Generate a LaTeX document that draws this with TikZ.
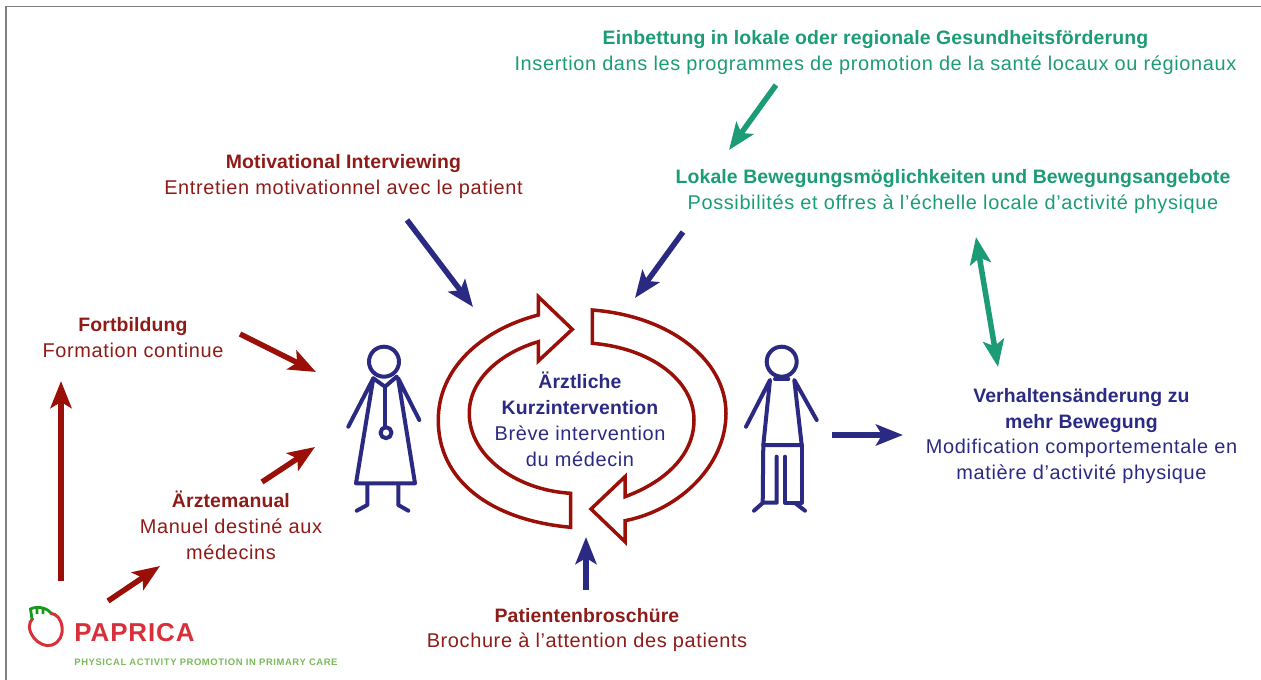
\documentclass[tikz,border=0pt]{standalone}
\usepackage{fontspec}
\setmainfont{Liberation Sans}[LetterSpace=3.2,BoldFeatures={Scale=0.975,LetterSpace=0.7}]
\newfontfamily\logofont{Liberation Sans}[LetterSpace=3.5]
\newfontfamily\claimfont{Liberation Sans}[LetterSpace=6]
\usetikzlibrary{arrows.meta}
\definecolor{papred}{HTML}{9A1008}
\definecolor{textred}{HTML}{8E1B18}
\definecolor{papnavy}{HTML}{2A2A82}
\definecolor{papgreen}{HTML}{1C9C76}
\definecolor{logored}{HTML}{D8303A}
\definecolor{logogreen}{HTML}{7CB95A}
\tikzset{
  thicktip/.style={-{Stealth[length=27bp,width=21bp,inset=6bp]},line width=5.5bp},
  redarrow/.style={thicktip,papred},
  navyarrow/.style={thicktip,papnavy},
  greenarrow/.style={thicktip,papgreen},
  label/.style={align=center,inner sep=0pt,font=\fontsize{20}{26}\selectfont},
  redlabel/.style={label,text=textred},
  navylabel/.style={label,text=papnavy},
  greenlabel/.style={label,text=papgreen},
  cycle/.style={draw=papred,line width=3.5bp,line join=miter},
  figure/.style={draw=papnavy,line width=4bp,line cap=round,line join=round},
}
\begin{document}
\begin{tikzpicture}[x=1bp,y=-1bp]
  \useasboundingbox (0,0) rectangle (1261,680);
  \draw [gray,line width=1.5bp] (6,680) -- (6,6.5) -- (1261,6.5);
  % Node: labels
  \node [greenlabel] (einbettung) at (875.5,52.5) {\textbf{Einbettung in lokale oder regionale Gesundheitsförderung}\\Insertion dans les programmes de promotion de la santé locaux ou régionaux};
  \node [greenlabel] (lokale) at (953,191.5) {\textbf{Lokale Bewegungsmöglichkeiten und Bewegungsangebote}\\Possibilités et offres à l’échelle locale d’activité physique};
  \node [redlabel] (motivational) at (343.5,176.5) {\textbf{Motivational Interviewing}\\Entretien motivationnel avec le patient};
  \node [redlabel] (fortbildung) at (133,337.5) {\textbf{Fortbildung}\\Formation continue};
  \node [redlabel] (manual) at (231,525) {\textbf{Ärztemanual}\\Manuel destiné aux\\médecins};
  \node [redlabel] (broschuere) at (587,630) {\textbf{Patientenbroschüre}\\Brochure à l’attention des patients};
  \node [navylabel] (verhalten) at (1081.5,436) {\textbf{Verhaltensänderung zu}\\\textbf{mehr Bewegung}\\Modification comportementale en\\matière d’activité physique};
  \node [navylabel] (kurz) at (580,419.5) {\textbf{Ärztliche}\\\textbf{Kurzintervention}\\Brève intervention\\du médecin};
  % Node: logo
  \node [inner sep=0pt,text=logored,font=\fontsize{26}{26}\logofont\bfseries\selectfont] (paprica) at (134.5,632.5) {PAPRICA};
  \node [inner sep=0pt,text=logogreen,font=\fontsize{9.5}{10}\claimfont\bfseries\selectfont] (claim) at (206,662) {PHYSICAL ACTIVITY PROMOTION IN PRIMARY CARE};
  \draw [logored,line width=3bp] (33,618) .. controls (28,623) and (28,630) .. (34,638) .. controls (39,644) and (46,647) .. (52,645) .. controls (60,642) and (63,635) .. (62,627) .. controls (61,619) and (57,614) .. (50,613);
  \draw [green!55!black!90!white,line width=2.8bp] (32,619) -- (30.5,609) .. controls (36,606) and (46,607) .. (51,613) (37,608) -- (37,614) (43,608) -- (43,614);
  % Node: arrow ends
  \coordinate (einbettungout) at (776,85);
  \coordinate (lokalein) at (729,150);
  \coordinate (lokaleout) at (683,232);
  \coordinate (motivout) at (407,220);
  \coordinate (topleft) at (473,307);
  \coordinate (topright) at (635,298);
  \coordinate (fortbout) at (240,334);
  \coordinate (doctorup) at (316,372);
  \coordinate (manualout) at (262,482);
  \coordinate (doctordown) at (315,447);
  \coordinate (logoup) at (61,581);
  \coordinate (fortbin) at (61,381);
  \coordinate (logoright) at (108,601);
  \coordinate (manualin) at (160,566);
  \coordinate (broschout) at (586,590);
  \coordinate (bottomin) at (586,537);
  \coordinate (patientout) at (832,435);
  \coordinate (verhaltenin) at (903,435);
  \coordinate (lokaledown) at (976,237);
  \coordinate (verhaltenup) at (998,367);
  % Edge: labels -> cycle and figures
  \draw [greenarrow] (einbettungout) -- (lokalein);
  \draw [greenarrow,{Stealth[length=27bp,width=21bp,inset=6bp]}-{Stealth[length=27bp,width=21bp,inset=6bp]}] (lokaledown) -- (verhaltenup);
  \draw [navyarrow] (lokaleout) -- (topright);
  \draw [navyarrow] (motivout) -- (topleft);
  \draw [navyarrow] (broschout) -- (bottomin);
  \draw [navyarrow] (patientout) -- (verhaltenin);
  \draw [redarrow] (fortbout) -- (doctorup);
  \draw [redarrow] (manualout) -- (doctordown);
  \draw [redarrow] (logoup) -- (fortbin);
  \draw [redarrow] (logoright) -- (manualin);
  % Node: cycle
  \draw [cycle] (570.7,527.3) .. controls (490,520) and (438,480) .. (438.3,420)
    .. controls (438,370) and (480,330) .. (538.3,315) -- (538.3,296.7) -- (572.3,329.3)
    -- (538.3,361) -- (538.3,341.7) .. controls (500,353) and (469,380) .. (469.3,413.3)
    .. controls (469,455) and (515,490) .. (570.7,493.3) -- cycle;
  \draw [cycle] (592.3,310) .. controls (670,316) and (726,360) .. (726,413.3)
    .. controls (726,465) and (680,510) .. (625,520.7) -- (625,541.7) -- (591,509)
    -- (625,476.7) -- (625,496.7) .. controls (665,482) and (694,455) .. (694,420)
    .. controls (694,380) and (650,348) .. (592.3,343.3) -- cycle;
  % Node: doctor
  \draw [figure] (384,361.7) circle (15bp);
  \draw [figure] (348.3,426.7) -- (373.3,378.3) -- (356,483.3) -- (415,483.3) -- (398,378) -- (419.3,420);
  \draw [figure] (373.3,378.3) -- (385,386.7) -- (396.7,376.7);
  \draw [figure] (385,386.7) -- (385,427);
  \draw [figure] (386,432.7) circle (5.5bp);
  \draw [figure] (367.3,484) -- (367.3,505) -- (356.7,510.7);
  \draw [figure] (398.3,484) -- (398.3,505) -- (408.3,510.7);
  % Node: patient
  \draw [figure] (781.7,361.7) circle (15bp);
  \draw [figure] (775,379) -- (788.3,379);
  \draw [figure] (746,426.7) -- (770,380) -- (763.3,445) -- (801.7,445) -- (794.3,380) -- (816.7,420);
  \draw [figure] (763.3,445) -- (762.7,502.7) -- (776.7,502.7) -- (776.7,456.7);
  \draw [figure] (785,456.7) -- (785,502.7) -- (801.7,502.7) -- (801.7,445);
  \draw [figure] (762.7,503) -- (754,510.7);
  \draw [figure] (795,503) -- (805,510.7);
\end{tikzpicture}
\end{document}
